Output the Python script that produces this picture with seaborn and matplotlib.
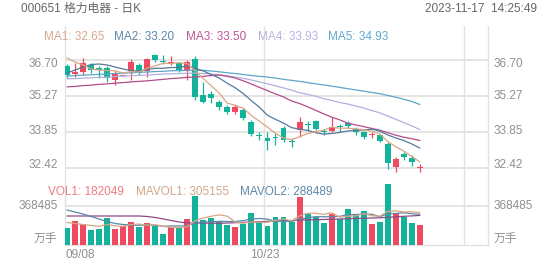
import numpy as np
import pandas as pd
import matplotlib
matplotlib.use("Agg")
import matplotlib.pyplot as plt
import seaborn as sns

# ---------------- data ----------------
open_ = [36.46, 36.14, 36.22, 36.50, 36.38, 36.38, 35.91, 36.08, 36.26, 36.50, 36.26, 36.90, 36.66, 36.56, 36.56,
         36.26, 36.74, 35.31, 35.35, 35.03, 34.83, 34.63, 34.71, 34.24, 33.70, 33.60, 33.62, 34.00, 33.46, 33.92,
         34.14, 34.28, 33.86, 33.88, 34.08, 34.20, 33.96, 33.84, 33.70, 33.72, 33.36, 32.45, 32.96, 32.81, 32.41]
close = [36.10, 36.22, 36.58, 36.30, 36.30, 35.98, 36.18, 36.10, 36.62, 36.18, 36.74, 36.70, 36.60, 36.60, 36.30,
         36.62, 35.23, 35.03, 35.19, 34.83, 34.63, 34.83, 34.40, 33.76, 33.66, 33.48, 33.58, 33.52, 33.42, 34.24,
         34.10, 33.96, 33.82, 34.04, 34.04, 34.08, 33.84, 33.64, 33.74, 33.48, 32.61, 32.77, 32.83, 32.63, 32.44]
high = [36.54, 36.58, 36.78, 36.58, 36.46, 36.46, 36.26, 36.12, 36.74, 36.58, 36.78, 36.94, 36.90, 36.86, 36.62,
        36.70, 36.86, 35.83, 35.47, 35.11, 34.91, 34.91, 34.79, 34.32, 33.84, 33.84, 33.80, 34.08, 33.60, 34.44,
        34.28, 34.32, 33.96, 34.44, 34.16, 34.26, 34.02, 33.88, 33.84, 33.76, 33.44, 32.85, 33.04, 32.92, 32.57]
low = [35.98, 36.02, 36.10, 36.18, 35.98, 35.83, 35.71, 36.06, 35.91, 36.10, 36.02, 36.62, 36.54, 36.50, 36.22,
       35.91, 35.11, 34.99, 34.99, 34.71, 34.55, 34.55, 34.32, 33.68, 33.52, 33.12, 33.32, 33.44, 33.24, 33.64,
       33.88, 33.92, 33.72, 33.84, 33.84, 34.00, 33.72, 33.56, 33.60, 33.44, 32.37, 32.25, 32.73, 32.49, 32.25]
volume = [161800, 222050, 195250, 134950, 151220, 256500, 151220, 179000, 219200, 168450, 205780, 172280, 104320,
          168450, 157920, 245970, 461320, 235450, 252670, 219180, 185680, 165580, 199080, 306270, 212480, 178980,
          259370, 266070, 212480, 458450, 296700, 266070, 205780, 296700, 245970, 340730, 279470, 316800, 195250,
          219180, 576170, 303400, 263200, 205780, 182049]

ma1 = [36.78, 36.62, 36.50, 36.34, 36.30, 36.28, 36.27, 36.18, 36.24, 36.22, 36.37, 36.47, 36.57, 36.56, 36.59,
       36.56, 36.27, 35.96, 35.67, 35.38, 34.98, 34.90, 34.78, 34.49, 34.26, 34.03, 33.78, 33.60, 33.53, 33.65,
       33.77, 33.85, 33.91, 34.03, 33.99, 33.99, 33.96, 33.93, 33.87, 33.76, 33.46, 33.25, 33.08, 32.86, 32.65]
ma2 = [36.18, 36.30, 36.42, 36.52, 36.54, 36.50, 36.42, 36.34, 36.28, 36.26, 36.32, 36.37, 36.37, 36.40, 36.40,
       36.47, 36.37, 36.26, 36.12, 35.98, 35.77, 35.59, 35.36, 35.08, 34.82, 34.50, 34.34, 34.19, 34.01, 33.95,
       33.90, 33.81, 33.75, 33.78, 33.82, 33.88, 33.90, 33.92, 33.95, 33.87, 33.72, 33.60, 33.50, 33.36, 33.20]
ma3 = [35.63, 35.65, 35.68, 35.70, 35.73, 35.75, 35.78, 35.80, 35.83, 35.85, 35.87, 35.90, 35.93, 35.96, 35.98,
       36.01, 36.02, 36.05, 36.08, 36.10, 36.05, 35.98, 35.87, 35.74, 35.61, 35.48, 35.35, 35.23, 35.07, 34.97,
       34.84, 34.70, 34.56, 34.43, 34.32, 34.19, 34.12, 34.05, 33.98, 33.91, 33.81, 33.71, 33.63, 33.57, 33.50]
ma4 = [35.95, 35.96, 35.98, 35.99, 36.01, 36.02, 36.04, 36.06, 36.07, 36.09, 36.10, 36.12, 36.14, 36.15, 36.16,
       36.17, 36.18, 36.16, 36.14, 36.11, 36.07, 36.02, 35.97, 35.90, 35.83, 35.75, 35.67, 35.59, 35.50, 35.40,
       35.33, 35.26, 35.16, 35.09, 35.01, 34.95, 34.87, 34.79, 34.69, 34.60, 34.47, 34.34, 34.21, 34.08, 33.93]
ma5 = [36.06, 36.08, 36.10, 36.11, 36.13, 36.14, 36.16, 36.18, 36.19, 36.21, 36.22, 36.24, 36.25, 36.27, 36.28,
       36.29, 36.30, 36.29, 36.26, 36.23, 36.19, 36.16, 36.12, 36.08, 36.05, 36.02, 35.98, 35.93, 35.89, 35.85,
       35.80, 35.75, 35.71, 35.66, 35.61, 35.56, 35.51, 35.46, 35.41, 35.36, 35.29, 35.22, 35.14, 35.05, 34.93]
mavol1 = [210560, 200990, 191420, 181850, 173240, 192380, 178020, 174190, 191420, 195250, 184720, 188550, 174190,
          163660, 161750, 169410, 227790, 253630, 270860, 283300, 270860, 211520, 204820, 215350, 213430, 212480,
          231620, 245020, 225880, 274690, 298620, 299570, 288090, 304360, 262250, 270860, 273730, 295740, 275640,
          269900, 317760, 322540, 311060, 313930, 305155]
mavol2 = [330200, 311060, 291920, 267990, 244060, 220130, 200990, 191420, 186630, 183760, 188550, 183760, 174190,
          178020, 178020, 177060, 208650, 214390, 217260, 222050, 220130, 220130, 228750, 243100, 248850, 242150,
          221090, 224920, 220130, 244060, 255550, 266070, 266070, 265120, 268950, 285220, 287130, 291920, 290000,
          266070, 293830, 297660, 303400, 294790, 288489]
mavol3 = [272770, 272770, 272770, 272770, 272770, 272770, 272770, 272770, 272770, 272770, 267990, 258420, 244060,
          229700, 215350, 205780, 205780, 205780, 203860, 202910, 205780, 208650, 211520, 215350, 218220, 221090,
          223960, 226830, 229700, 233530, 235450, 237360, 239280, 242150, 244060, 246930, 248850, 250760, 253630,
          255550, 260330, 265120, 269900, 273730, 278520]

price_ticks = [36.70, 35.27, 33.85, 32.42]
vol_tick = 368485
date_labels = ["09/08", "10/23"]
title_text = "000651 格力电器 - 日K"
time_text = "2023-11-17  14:25:49"
ma_names = ["MA1", "MA2", "MA3", "MA4", "MA5"]
vol_names = ["VOL1", "MAVOL1", "MAVOL2"]

# ---------------- style ----------------
sns.set_theme(style="white")
plt.rcParams["font.family"] = ["Liberation Sans", "Noto Sans CJK SC", "DejaVu Sans"]

RED = "#ef4a5f"
TEAL = "#13b29b"
MA_COLORS = ["#d9a684", "#55799b", "#b44c8a", "#b2b0e0", "#5aa7c9"]
MA_TEXT = ["#d6a98c", "#5d88aa", "#c0559a", "#b6b4e2", "#5ea9cb"]
VOL_COLORS = ["#d9a684", "#5b88ab", "#8e4a86"]
VOL_TEXT = ["#ee7a82", "#d3a686", "#5d88aa"]
GRID = "#e2e2e2"
LABEL = "#8f8f8f"
FS = 8.5

W, H = 552, 265
fig = plt.figure(figsize=(W / 100, H / 100), dpi=100)
fig.patch.set_facecolor("white")


def fx(x):
    return x / W


def fy(y):
    return 1 - y / H


L, R = 65, 488
axp = fig.add_axes([fx(L), fy(183), (R - L) / W, (183 - 26) / H])
axv = fig.add_axes([fx(L), fy(244.5), (R - L) / W, (244.5 - 183) / H])

n = len(close)
idx = np.arange(n)
o = np.array(open_)
c = np.array(close)
hi = np.array(high)
lo = np.array(low)
up = c >= o
cols = np.where(up, RED, TEAL)

# ---------------- price panel ----------------
axp.vlines(idx, lo, hi, colors=cols, lw=0.9, zorder=3)
body = np.maximum(np.abs(c - o), 0.025)
axp.bar(idx, body, bottom=np.minimum(o, c), width=0.74, color=cols, linewidth=0, zorder=4)

for vals, col in zip([ma5, ma4, ma3, ma2, ma1], MA_COLORS[::-1]):
    sns.lineplot(x=idx, y=vals, ax=axp, color=col, lw=0.9, zorder=5)

XMIN, XMAX = -0.25, 52.5
axp.set_xlim(XMIN, XMAX)
axp.set_ylim(31.81, 38.05)
axp.set_yticks(price_ticks)
axp.set_yticklabels([])
axp.set_xticks([])
axp.tick_params(length=0)
axp.grid(axis="y", color=GRID, lw=1.3)
axp.grid(axis="x", visible=False)
for s in ["top", "bottom"]:
    axp.spines[s].set_visible(False)
for s in ["left", "right"]:
    axp.spines[s].set_color(GRID)
    axp.spines[s].set_linewidth(1.0)
grid_x = [24.56, 49.5]
for gx in grid_x:
    axp.axvline(gx, color=GRID, lw=1.0, zorder=0)

# ---------------- volume panel ----------------
dfv = pd.DataFrame({"i": idx, "v": volume, "dir": np.where(up, "up", "down")})
sns.barplot(data=dfv, x="i", y="v", hue="dir", palette={"up": RED, "down": TEAL},
            native_scale=True, dodge=False, width=0.74, saturation=1, errorbar=None,
            legend=False, linewidth=0, ax=axv, zorder=3)
for vals, col in zip([mavol3, mavol2, mavol1], VOL_COLORS[::-1]):
    sns.lineplot(x=idx, y=vals, ax=axv, color=col, lw=0.9, zorder=5)

axv.set_xlim(XMIN, XMAX)
axv.set_ylim(0, 588620)
axv.set_yticks([vol_tick])
axv.set_yticklabels([])
axv.set_xticks([])
axv.set_xlabel("")
axv.set_ylabel("")
axp.set_xlabel("")
axp.set_ylabel("")
axv.tick_params(length=0)
axv.grid(axis="y", color=GRID, lw=1.3)
axv.grid(axis="x", visible=False)
axv.spines["top"].set_visible(False)
for s in ["left", "right", "bottom"]:
    axv.spines[s].set_color(GRID)
    axv.spines[s].set_linewidth(1.0)
for gx in grid_x:
    axv.axvline(gx, color=GRID, lw=1.0, zorder=0)

# ---------------- texts ----------------
fig.text(fx(21), fy(8.6), title_text, ha="left", va="center", fontsize=FS, color="#666666")
fig.text(fx(537), fy(8.6), time_text, ha="right", va="center", fontsize=FS, color="#666666")

ma_last = [ma1[-1], ma2[-1], ma3[-1], ma4[-1], ma5[-1]]
ma_x = [44, 114, 186, 258, 328]
for name, val, xx, col in zip(ma_names, ma_last, ma_x, MA_TEXT):
    fig.text(fx(xx), fy(37), f"{name}: {val:.2f}", ha="left", va="center", fontsize=FS, color=col)

vol_last = [volume[-1], mavol1[-1], mavol2[-1]]
vol_x = [48.5, 135.5, 240.5]
for name, val, xx, col in zip(vol_names, vol_last, vol_x, VOL_TEXT):
    fig.text(fx(xx), fy(192), f"{name}: {val:d}", ha="left", va="center", fontsize=FS, color=col)

price_label_y = [63.5, 96, 131.5, 165]
for p, yy in zip(price_ticks, price_label_y):
    fig.text(fx(58), fy(yy), f"{p:.2f}", ha="right", va="center", fontsize=FS, color=LABEL)
    fig.text(fx(494), fy(yy), f"{p:.2f}", ha="left", va="center", fontsize=FS, color=LABEL)

fig.text(fx(57.5), fy(206), f"{vol_tick}", ha="right", va="center", fontsize=FS, color=LABEL)
fig.text(fx(494), fy(206), f"{vol_tick}", ha="left", va="center", fontsize=FS, color=LABEL)
fig.text(fx(57.5), fy(240), "万手", ha="right", va="center", fontsize=FS, color=LABEL)
fig.text(fx(494), fy(240), "万手", ha="left", va="center", fontsize=FS, color=LABEL)

fig.text(fx(65), fy(255), date_labels[0], ha="left", va="center", fontsize=FS, color=LABEL)
fig.text(fx(265), fy(255), date_labels[1], ha="center", va="center", fontsize=FS, color=LABEL)

fig.savefig("out.png", dpi=100, facecolor="white")
